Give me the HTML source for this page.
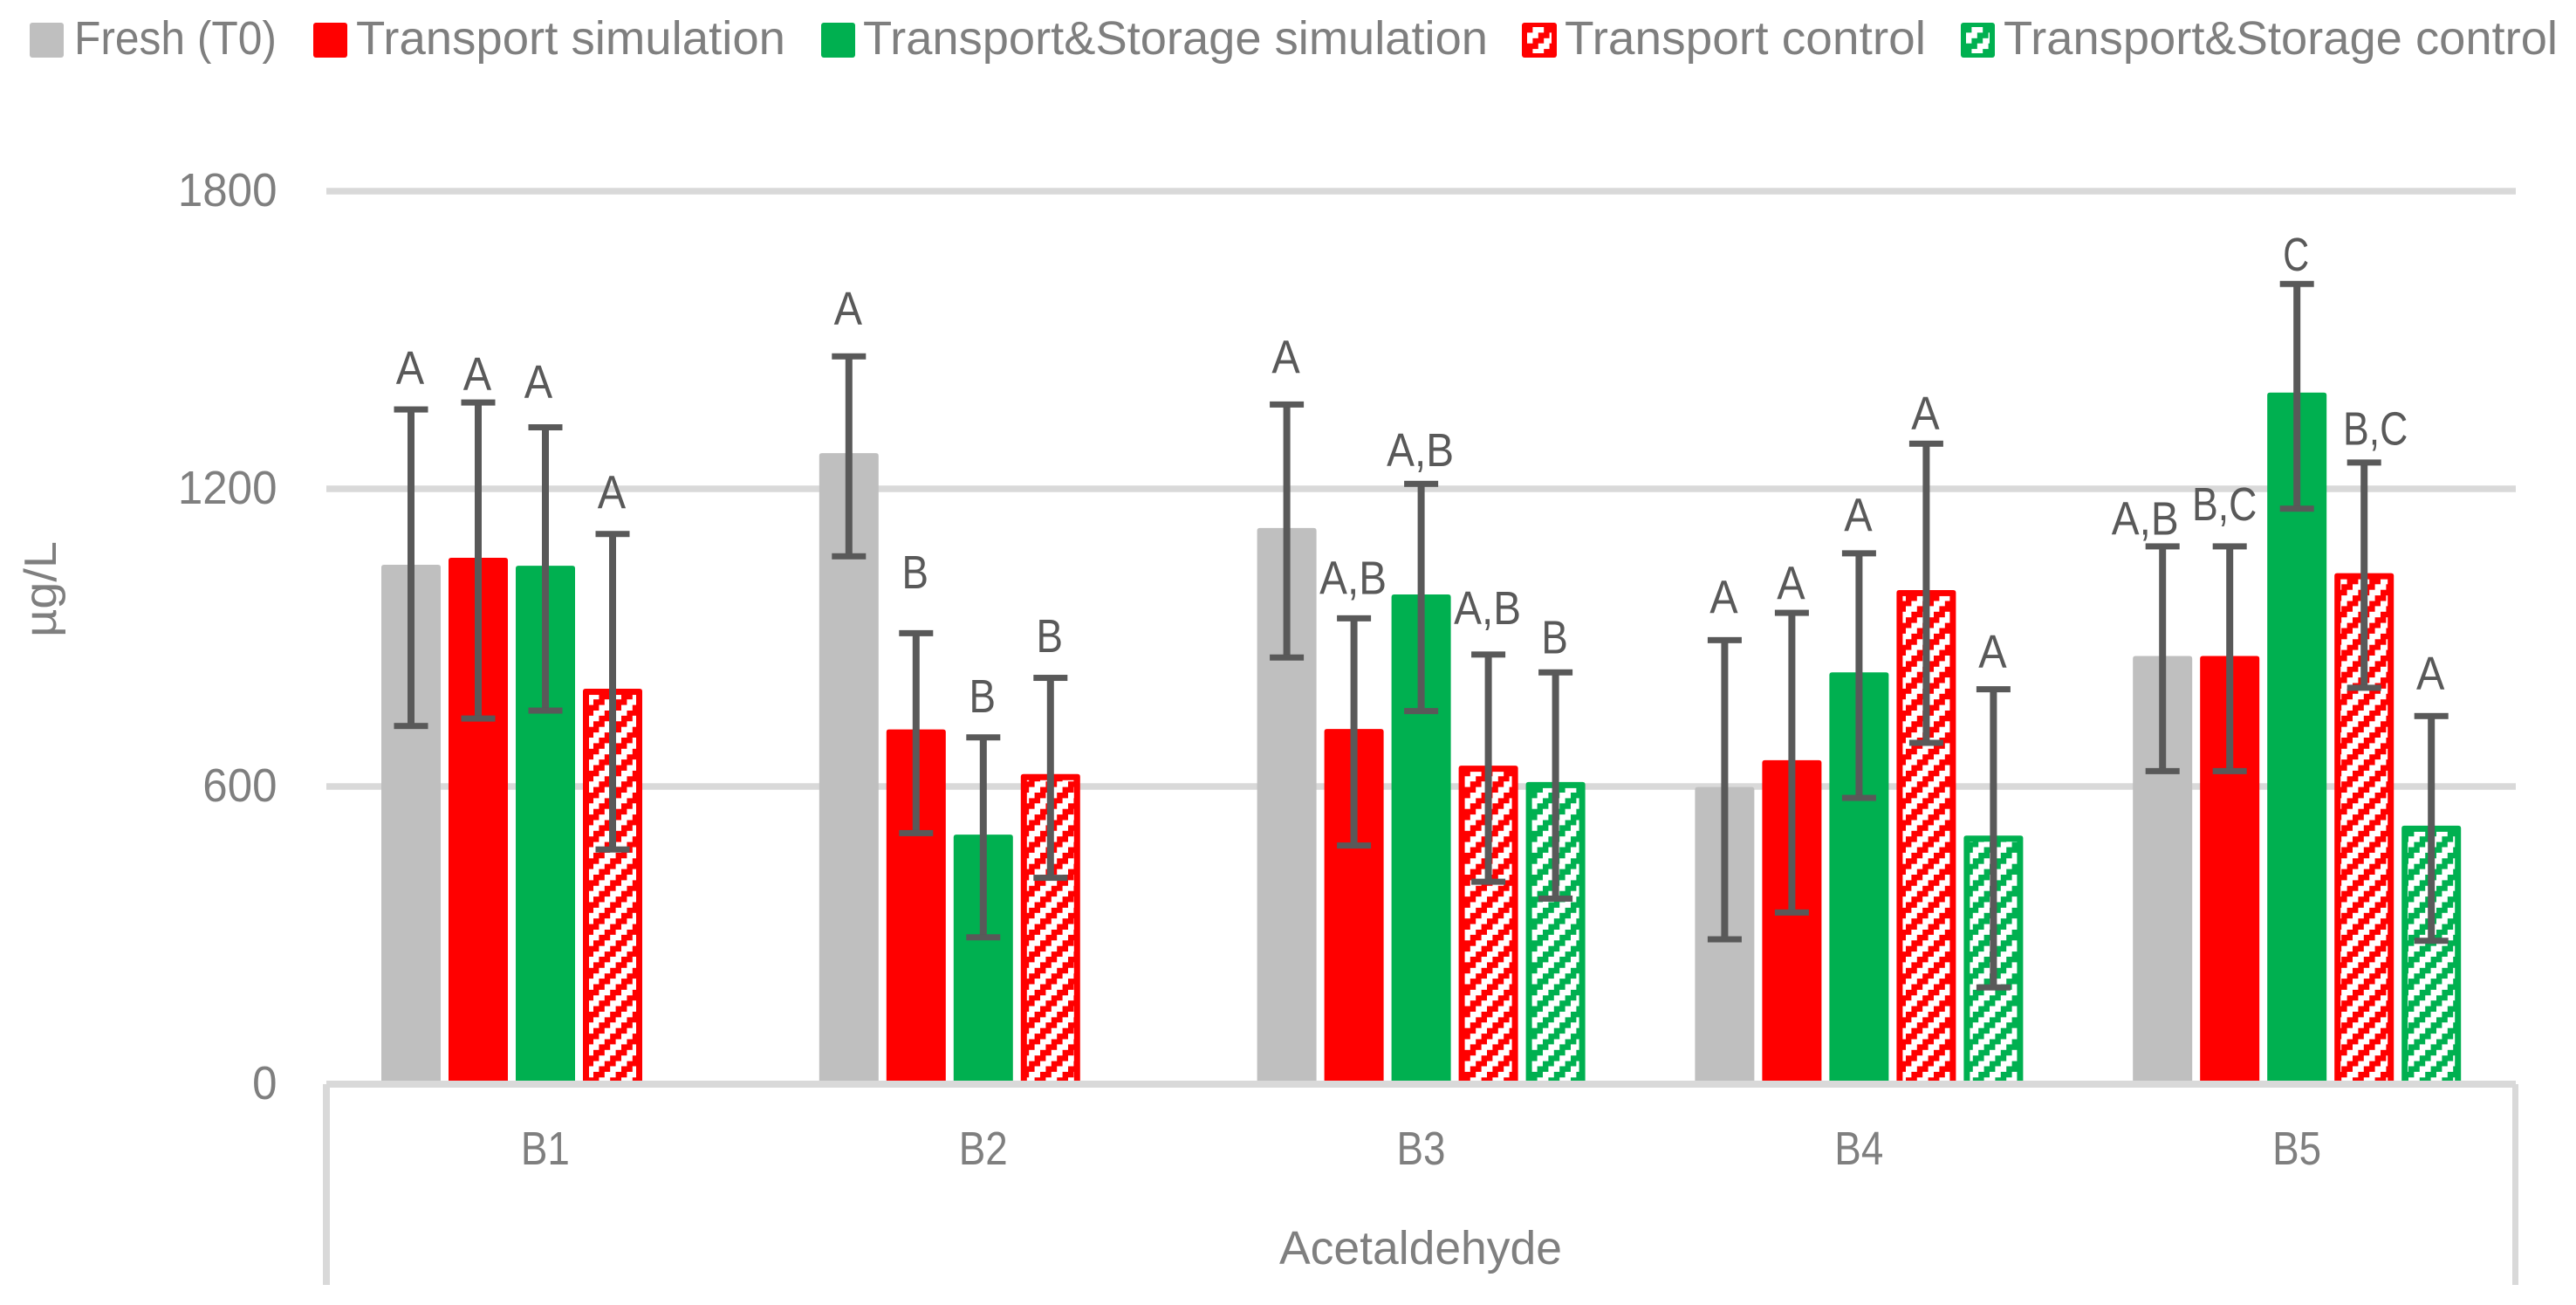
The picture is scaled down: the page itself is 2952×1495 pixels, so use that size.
<!DOCTYPE html>
<html lang="en">
<head>
<meta charset="utf-8">
<title>Acetaldehyde chart</title>
<style>
  html, body { margin: 0; padding: 0; background: #fff; }
  svg { display: block; }
  text { font-family: "Liberation Sans", Arial, sans-serif; }
</style>
</head>
<body>
<svg id="chart" xmlns="http://www.w3.org/2000/svg" width="2952" height="1495" viewBox="0 0 2952 1495">
  <defs>
    <pattern id="hatch-red" patternUnits="userSpaceOnUse" width="25.6" height="25.1" patternTransform="translate(660.8 1002)">
      <rect width="25.6" height="25.1" fill="#fff" shape-rendering="crispEdges"/>
      <g fill="#ff0000" shape-rendering="crispEdges">
        <rect x="19.2" y="0" width="6.4" height="6.3"/><rect x="0" y="0" width="6.4" height="6.3"/>
        <rect x="12.8" y="6.27" width="12.8" height="6.3"/>
        <rect x="6.4" y="12.55" width="12.8" height="6.3"/>
        <rect x="0" y="18.82" width="12.8" height="6.3"/>
      </g>
    </pattern>
    <pattern id="hatch-green" patternUnits="userSpaceOnUse" width="25.6" height="25.1" patternTransform="translate(660.8 1002)">
      <rect width="25.6" height="25.1" fill="#fff" shape-rendering="crispEdges"/>
      <g fill="#00b050" shape-rendering="crispEdges">
        <rect x="19.2" y="0" width="6.4" height="6.3"/><rect x="0" y="0" width="6.4" height="6.3"/>
        <rect x="12.8" y="6.27" width="12.8" height="6.3"/>
        <rect x="6.4" y="12.55" width="12.8" height="6.3"/>
        <rect x="0" y="18.82" width="12.8" height="6.3"/>
      </g>
    </pattern>
    <pattern id="legend-hatch-red" patternUnits="userSpaceOnUse" width="25.6" height="25.1" patternTransform="translate(1750 31)">
      <rect width="25.6" height="25.1" fill="#fff" shape-rendering="crispEdges"/>
      <g fill="#ff0000" shape-rendering="crispEdges">
        <rect x="19.2" y="0" width="6.4" height="6.3"/><rect x="0" y="0" width="6.4" height="6.3"/>
        <rect x="12.8" y="6.27" width="12.8" height="6.3"/>
        <rect x="6.4" y="12.55" width="12.8" height="6.3"/>
        <rect x="0" y="18.82" width="12.8" height="6.3"/>
      </g>
    </pattern>
    <pattern id="legend-hatch-green" patternUnits="userSpaceOnUse" width="25.6" height="25.1" patternTransform="translate(2253 31)">
      <rect width="25.6" height="25.1" fill="#fff" shape-rendering="crispEdges"/>
      <g fill="#00b050" shape-rendering="crispEdges">
        <rect x="19.2" y="0" width="6.4" height="6.3"/><rect x="0" y="0" width="6.4" height="6.3"/>
        <rect x="12.8" y="6.27" width="12.8" height="6.3"/>
        <rect x="6.4" y="12.55" width="12.8" height="6.3"/>
        <rect x="0" y="18.82" width="12.8" height="6.3"/>
      </g>
    </pattern>
  </defs>

  <rect width="2952" height="1495" fill="#fff"/>

  <g id="legend" font-size="54" fill="#7f7f7f">
    <g>
      <rect x="34" y="26" width="39" height="40" rx="3" fill="#bfbfbf"/>
      <text x="85" y="62" textLength="232" lengthAdjust="spacingAndGlyphs">Fresh (T0)</text>
    </g>
    <g>
      <rect x="359" y="26" width="39" height="40" rx="3" fill="#ff0000"/>
      <text x="408" y="62" textLength="492" lengthAdjust="spacingAndGlyphs">Transport simulation</text>
    </g>
    <g>
      <rect x="941" y="26" width="39" height="40" rx="3" fill="#00b050"/>
      <text x="989" y="62" textLength="716" lengthAdjust="spacingAndGlyphs">Transport&amp;Storage simulation</text>
    </g>
    <g>
      <rect x="1744" y="26" width="40" height="40" rx="3" fill="#ff0000"/>
      <rect x="1750" y="31" width="28" height="30" fill="url(#legend-hatch-red)"/>
      <text x="1793" y="62" textLength="414" lengthAdjust="spacingAndGlyphs">Transport control</text>
    </g>
    <g>
      <rect x="2247" y="26" width="39" height="40" rx="3" fill="#00b050"/>
      <rect x="2253" y="31" width="27" height="30" fill="url(#legend-hatch-green)"/>
      <text x="2296" y="62" textLength="635" lengthAdjust="spacingAndGlyphs">Transport&amp;Storage control</text>
    </g>
  </g>

  <text transform="translate(64 675) rotate(-90)" text-anchor="middle" font-size="52" fill="#7f7f7f" textLength="110" lengthAdjust="spacingAndGlyphs">µg/L</text>
  <text x="1628" y="1448" text-anchor="middle" font-size="54" fill="#7f7f7f" textLength="324" lengthAdjust="spacingAndGlyphs">Acetaldehyde</text>

  <g id="grid"></g>
  <g id="yticks"></g>
  <g id="bars"></g>
  <g id="xaxis"></g>
  <g id="errors"></g>
  <g id="letters"></g>
</svg>

<script>
// ---- chart data (µg/L) ----
const categories = ['B1', 'B2', 'B3', 'B4', 'B5'];
const tickLabels = [0, 600, 1200, 1800];
const seriesKeys = ['fresh', 'transport-simulation', 'storage-simulation', 'transport-control', 'storage-control'];

const freshValues            = [1047, 1272, 1121, 599, 863];
const transportSimValues     = [1061, 715, 716, 653, 863];
const storageSimValues       = [1045, 503, 987, 830, 1394];
const transportControlValues = [797, 625, 642, 996, 1030];
const storageControlValues   = [null, null, 609, 501, 521];

const freshUpper            = [1360, 1467, 1370, 895, 1084];
const freshLower            = [722, 1064, 860, 292, 631];
const transportSimUpper     = [1374, 909, 939, 950, 1084];
const transportSimLower     = [737, 506, 481, 346, 631];
const storageSimUpper       = [1324, 699, 1210, 1070, 1613];
const storageSimLower       = [753, 296, 752, 577, 1160];
const transportControlUpper = [1109, 819, 866, 1291, 1253];
const transportControlLower = [473, 416, 408, 688, 799];
const storageControlUpper   = [null, null, 830, 796, 742];
const storageControlLower   = [null, null, 374, 195, 289];

const freshLetters            = ['A', 'A', 'A', 'A', 'A,B'];
const transportSimLetters     = ['A', 'B', 'A,B', 'A', 'B,C'];
const storageSimLetters       = ['A', 'B', 'A,B', 'A', 'C'];
const transportControlLetters = ['A', 'B', 'A,B', 'A', 'B,C'];
const storageControlLetters   = [null, null, 'B', 'A', 'A'];

// level on the value axis at which each letter sits
const freshLetterLevels            = [1411, 1531, 1433, 949, 1108];
const transportSimLetterLevels     = [1399, 999, 988, 977, 1137];
const storageSimLetterLevels       = [1383, 750, 1246, 1115, 1640];
const transportControlLetterLevels = [1160, 871, 927, 1320, 1289];
const storageControlLetterLevels   = [null, null, 868, 839, 795];

const allValues  = [freshValues, transportSimValues, storageSimValues, transportControlValues, storageControlValues];
const allUpper   = [freshUpper, transportSimUpper, storageSimUpper, transportControlUpper, storageControlUpper];
const allLower   = [freshLower, transportSimLower, storageSimLower, transportControlLower, storageControlLower];
const allLetters = [freshLetters, transportSimLetters, storageSimLetters, transportControlLetters, storageControlLetters];
const allLevels  = [freshLetterLevels, transportSimLetterLevels, storageSimLetterLevels, transportControlLetterLevels, storageControlLetterLevels];

// ---- axis functions ----
function yScale(v) { return 1242 - v * 341 / 600; }
function slotLeft(groupIndex, seriesIndex) { return 437 + 501.8 * groupIndex + 77 * seriesIndex; }
function groupCenter(groupIndex) { return 374 + 501.8 * (groupIndex + 0.5); }

const NS = 'http://www.w3.org/2000/svg';
function mk(tag, attrs, parent) {
  const el = document.createElementNS(NS, tag);
  for (const k in attrs) el.setAttribute(k, attrs[k]);
  parent.appendChild(el);
  return el;
}

function drawChart() {
  const gridG = document.getElementById('grid');
  const tickG = document.getElementById('yticks');
  const barG = document.getElementById('bars');
  const xG = document.getElementById('xaxis');
  const errG = document.getElementById('errors');
  const letG = document.getElementById('letters');
  const BAR_W = 68;
  const fills = ['#bfbfbf', '#ff0000', '#00b050', '#ff0000', '#00b050'];
  const hatch = [null, null, null, 'url(#hatch-red)', 'url(#hatch-green)'];
  const letterAdvance = { 'A': 32.4, 'B': 30.5, 'C': 29.9, ',': 14 };
  const letterNudge = { '0-2': -7, '4-0': -19, '4-1': -5, '4-3': 14 };

  tickLabels.forEach(function (t) {
    if (t !== 0) {
      const line = mk('rect', { x: 374, y: yScale(t) - 3.75, width: 2509, height: 7.5, fill: '#d9d9d9' }, gridG);
      
      
    }
    const label = String(t);
    const txt = mk('text', {
      x: 317.5, y: yScale(t) + 17, 'text-anchor': 'end', 'font-size': 54, fill: '#7f7f7f',
      textLength: label.length * 28.4, lengthAdjust: 'spacingAndGlyphs'
    }, tickG);
    txt.textContent = label;
    
    
  });

  categories.forEach(function (cat, g) {
    allValues.forEach(function (vals, s) {
      const v = vals[g];
      if (v === null) return;
      const x = slotLeft(g, s);
      const top = yScale(v);
      const base = yScale(0);
      const r = 3;
      const d = 'M' + x + ' ' + base + 'V' + (top + r) + 'Q' + x + ' ' + top + ' ' + (x + r) + ' ' + top +
        'H' + (x + BAR_W - r) + 'Q' + (x + BAR_W) + ' ' + top + ' ' + (x + BAR_W) + ' ' + (top + r) + 'V' + base + 'Z';
      const bar = mk('path', { d: d, fill: fills[s] }, barG);
      
      
      if (hatch[s]) {
        const inner = mk('rect', { x: x + 7, y: top + 7, width: BAR_W - 14, height: Math.max(0, base - top - 7), fill: hatch[s] }, barG);
        
        
      }

      const cx = x + BAR_W / 2;
      const yUp = yScale(allUpper[s][g]);
      const yLo = yScale(allLower[s][g]);
      const err = mk('g', { fill: '#595959' }, errG);
      
      
      mk('rect', { x: cx - 4, y: yUp, width: 8, height: yLo - yUp }, err);
      mk('rect', { x: cx - 19.5, y: yUp - 3.5, width: 39, height: 7 }, err);
      mk('rect', { x: cx - 19.5, y: yLo - 3.5, width: 39, height: 7 }, err);

      const letter = allLetters[s][g];
      if (letter) {
        let w = 0;
        for (const ch of letter) w += letterAdvance[ch];
        const nudge = letterNudge[g + '-' + s] || 0;
        const t = mk('text', {
          x: cx - 1 + nudge, y: yScale(allLevels[s][g]), 'text-anchor': 'middle', 'font-size': 54, fill: '#595959',
          textLength: w, lengthAdjust: 'spacingAndGlyphs'
        }, letG);
        t.textContent = letter;
        
        
      }
    });

    const catText = mk('text', {
      x: groupCenter(g), y: 1334, 'text-anchor': 'middle', 'font-size': 54, fill: '#7f7f7f',
      textLength: 56, lengthAdjust: 'spacingAndGlyphs'
    }, xG);
    catText.textContent = cat;
    
    
  });

  const baseLine = mk('rect', { x: 374, y: yScale(0) - 4, width: 2509, height: 8, fill: '#d9d9d9' }, xG);
  
  
  const leftEdge = mk('rect', { x: 370, y: yScale(0), width: 8, height: 230, fill: '#d9d9d9' }, xG);
  
  
  const rightEdge = mk('rect', { x: 2879, y: yScale(0), width: 7, height: 230, fill: '#d9d9d9' }, xG);
  
  
}
drawChart();
</script>
</body>
</html>
